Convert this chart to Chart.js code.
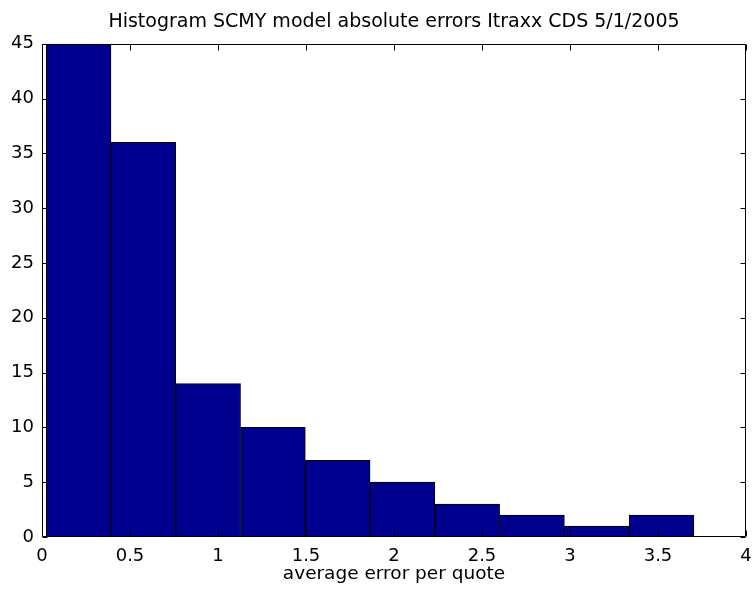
<!DOCTYPE html>
<html lang="en">
<head>
  <meta charset="UTF-8">
  <title>Histogram SCMY model absolute errors Itraxx CDS 5/1/2005</title>
  <script src="https://cdn.jsdelivr.net/npm/chart.js"></script>
  <style>
    body { margin: 0; background: #fff; }
    #wrap { width: 755px; height: 589px; }
  </style>
</head>
<body>
  <div id="wrap"><canvas id="hist" width="755" height="589"></canvas></div>
  <script>
    // bin centres (average error per quote) and counts
    const binCenters = [0.208, 0.576, 0.944, 1.312, 1.680, 2.048, 2.416, 2.784, 3.152, 3.520];
    const counts = [45, 36, 14, 10, 7, 5, 3, 2, 1, 2];
    const xTicks = [0, 0.5, 1, 1.5, 2, 2.5, 3, 3.5, 4];
    const yTicks = [0, 5, 10, 15, 20, 25, 30, 35, 40, 45];

    const FONT = "'DejaVu Sans', 'Liberation Sans', Arial, sans-serif";

    // matlab style box with inward ticks on all four sides
    const boxTicks = {
      id: 'boxTicks',
      afterDatasetsDraw(chart) {
        const { ctx, chartArea: a, scales: { x, y } } = chart;
        const L = Math.round(a.left) + 0.5, R = Math.round(a.right) - 0.5;
        const T = Math.round(a.top) + 0.5, B = Math.round(a.bottom) - 0.5;
        ctx.save();
        ctx.strokeStyle = '#000';
        ctx.lineWidth = 1;
        ctx.beginPath();
        ctx.rect(L, T, R - L, B - T);
        xTicks.forEach(v => {
          const px = Math.round(x.getPixelForValue(v)) + 0.5;
          ctx.moveTo(px, B); ctx.lineTo(px, B - 6);
          ctx.moveTo(px, T); ctx.lineTo(px, T + 6);
        });
        yTicks.forEach(v => {
          const py = Math.round(y.getPixelForValue(v)) + 0.5;
          ctx.moveTo(L, py); ctx.lineTo(L + 5, py);
          ctx.moveTo(R, py); ctx.lineTo(R - 5, py);
        });
        ctx.stroke();
        ctx.restore();
      }
    };

    const ctx = document.getElementById('hist').getContext('2d');
    new Chart(ctx, {
      type: 'bar',
      data: {
        datasets: [{
          data: binCenters.map((c, i) => ({ x: c, y: counts[i] })),
          backgroundColor: '#00008F',
          borderColor: '#000',
          borderWidth: 1,
          barPercentage: 1,
          categoryPercentage: 1
        }]
      },
      options: {
        responsive: false,
        animation: false,
        devicePixelRatio: 1,
        layout: { padding: { left: 0, right: 9, top: 0, bottom: 0 } },
        plugins: {
          legend: { display: false },
          tooltip: { enabled: false },
          title: {
            display: true,
            fullSize: false,
            text: 'Histogram SCMY model absolute errors Itraxx CDS 5/1/2005',
            color: '#000',
            font: { family: FONT, size: 19, weight: 'normal' },
            padding: { top: 11, bottom: 10 }
          }
        },
        scales: {
          x: {
            type: 'linear',
            offset: false,
            min: 0,
            max: 4,
            grid: { display: false, drawTicks: false, offset: false },
            border: { display: false },
            afterBuildTicks: s => { s.ticks = xTicks.map(v => ({ value: v })); },
            afterFit: s => { s.height = 52; s.paddingLeft = 0; s.paddingRight = 0; },
            ticks: {
              color: '#000',
              padding: 9,
              maxRotation: 0,
              font: { family: FONT, size: 18 },
              callback: v => String(v)
            },
            title: {
              display: true,
              text: 'average error per quote',
              color: '#000',
              font: { family: FONT, size: 18.5 },
              padding: { top: 0, bottom: 4 }
            }
          },
          y: {
            min: 0,
            max: 45,
            grid: { display: false, drawTicks: false },
            border: { display: false },
            afterBuildTicks: s => { s.ticks = yTicks.map(v => ({ value: v })); },
            afterFit: s => { s.width = 42; },
            ticks: {
              color: '#000',
              padding: 8,
              font: { family: FONT, size: 18 },
              callback: v => String(v)
            }
          }
        }
      },
      plugins: [boxTicks]
    });
  </script>
</body>
</html>
